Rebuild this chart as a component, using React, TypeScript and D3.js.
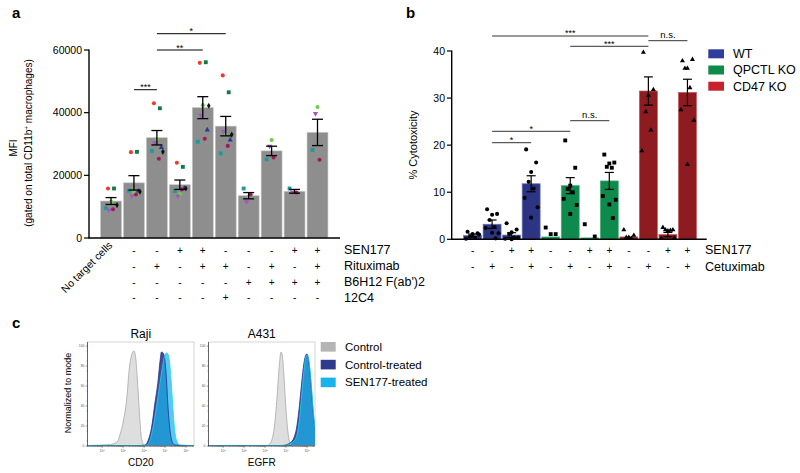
import React from 'react';
import * as d3 from 'd3';

const FONT = '"Liberation Sans", Arial, Helvetica, sans-serif';

// ---------- Panel a data ----------
const aBarMeans = [11800, 17600, 32000, 17000, 41600, 35700, 13500, 27800, 14900, 33700];
const aBarSem = [1100, 2300, 2300, 1500, 3500, 3100, 1000, 1500, 600, 4200];
const aYTicks = [0, 20000, 40000, 60000];
const aFirstLabel = 'No target cells';
const aRowLabels = ['SEN177', 'Rituximab', "B6H12 F(ab')2", '12C4'];
const aSEN177 = ['-', '-', '+', '+', '-', '-', '-', '+', '+'];
const aRituximab = ['-', '+', '-', '+', '+', '-', '+', '-', '+'];
const aB6H12 = ['-', '-', '-', '-', '-', '+', '+', '+', '+'];
const a12C4 = ['-', '-', '-', '-', '+', '-', '-', '-', '-'];
const donorRed = [15800, 27400, 43000, 24000, 55900, 51900, null, null, null, null];
const donorDarkGreen = [15800, 27500, 41400, 22700, 56100, 46500, null, null, null, null];
const donorLightGreen = [11600, 14500, 31600, 14000, 42400, 33000, 13200, 31300, null, 41800];
const donorPurple = [8900, 13400, 30400, 13400, 39200, 34000, 11600, 29300, 14700, 39700];
const donorNavy = [null, 15000, 28900, 15900, 34500, 31300, null, null, null, null];
const donorTeal = [9500, 15100, 27800, 15000, 30700, 27000, 15800, 25100, 15800, 28100];
const donorMaroon = [9200, 13900, 25300, 15500, 31700, 29400, 13900, 25700, 14500, 25000];
const donorBlack = [10500, 14800, 27500, 15800, 42200, 33000, null, null, null, null];
const aSig = [
  { from: 1, to: 2, label: '***' },
  { from: 2, to: 4, label: '**' },
  { from: 2, to: 5, label: '*' },
];

// ---------- Panel b data ----------
const bGroups = ['WT', 'QPCTL KO', 'CD47 KO'];
const bBarGroup = [0, 0, 0, 0, 1, 1, 1, 1, 2, 2, 2, 2];
const bBarMeans = [0.8, 3.2, 0.9, 11.8, 0.5, 11.4, 0.3, 12.4, 0.5, 31.5, 1.0, 31.2];
const bBarSem = [0.3, 0.9, 0.5, 1.7, 0, 1.7, 0, 1.8, 0, 3.0, 0.45, 2.8];
const bYTicks = [0, 10, 20, 30, 40];
const bSEN177 = ['-', '-', '+', '+', '-', '-', '+', '+', '-', '-', '+', '+'];
const bCetuximab = ['-', '+', '-', '+', '-', '+', '-', '+', '-', '+', '-', '+'];
const bPoints = [
  [1.6, 1.3, 1.1, 0.6, 0.4, 0.1, 1.0],
  [6.4, 5.4, 5.2, 4.1, 2.6, 2.4, 1.3, 1.4, 0.2],
  [3.4, 2.1, 1.5, 1.1, 0.4, 0.1, 0.4, 0.0],
  [19.1, 16.3, 14.3, 12.2, 10.8, 8.8, 6.8, 4.6],
  [2.5, 1.1, 1.1],
  [21.0, 15.2, 11.4, 10.7, 10.0, 8.6, 7.3, 5.4],
  [3.2, 0.6],
  [18.0, 16.3, 16.1, 15.4, 15.2, 9.2, 8.4, 7.4, 4.5],
  [2.0, 0.85, 0.4, 0.4, 0.2],
  [39.7, 31.8, 30.6, 27.1, 23.2, 18.8],
  [2.5, 2.0, 1.8, 2.0, 1.9, 0.2, 0.3],
  [37.9, 38.2, 36.3, 36.3, 32.2, 27.5, 25.3, 15.9],
];
const bSig = [
  { from: 1, to: 9, label: '***' },
  { from: 9, to: 11, label: 'n.s.' },
  { from: 5, to: 9, label: '***' },
  { from: 5, to: 7, label: 'n.s.' },
  { from: 1, to: 5, label: '*' },
  { from: 1, to: 3, label: '*' },
];

// ---------- Panel c data (log10 intensity, % of mode) ----------
const rajiControlLog = [0.3, 0.92, 1.39, 1.71, 1.86, 2.02, 2.18, 2.3, 2.37, 2.46, 2.52, 2.6, 2.68, 2.77, 2.85, 2.92, 3.0, 5.35];
const rajiControlPct = [0.3, 1, 1.5, 4, 12, 26, 49, 79, 88, 94, 95, 88, 66, 36, 12, 4, 0.3, 0.3];
const rajiCtrlTreatedLog = [0.3, 2.8, 3.04, 3.2, 3.36, 3.51, 3.67, 3.75, 3.83, 3.91, 3.99, 4.07, 4.14, 4.22, 4.3, 4.46, 5.35];
const rajiCtrlTreatedPct = [0.5, 0.5, 1, 6, 19, 42, 66, 83, 94, 93, 86, 66, 39, 19, 7, 1, 0.3];
const rajiSenLog = [0.3, 2.9, 3.12, 3.28, 3.43, 3.59, 3.75, 3.91, 3.99, 4.07, 4.14, 4.22, 4.3, 4.38, 4.46, 4.54, 4.7, 5.35];
const rajiSenPct = [0.5, 0.5, 1, 6, 19, 39, 62, 83, 91, 93, 92, 83, 62, 36, 16, 6, 1, 0.5];
const a431ControlLog = [0.3, 3.0, 3.16, 3.32, 3.44, 3.57, 3.66, 3.76, 3.82, 3.89, 3.98, 4.08, 4.17, 4.28, 5.4];
const a431ControlPct = [0.3, 0.3, 1, 6, 19, 49, 76, 94, 91, 73, 42, 16, 4, 0.5, 0.3];
const a431CtrlTreatedLog = [0.3, 3.8, 3.97, 4.21, 4.37, 4.5, 4.61, 4.72, 4.82, 4.91, 4.99, 5.06, 5.14, 5.22, 5.3, 5.38, 5.45];
const a431CtrlTreatedPct = [0.3, 0.5, 1, 3.5, 8, 18, 35, 58, 78, 89, 92, 88, 74, 54, 32, 18, 12];
const a431SenLog = [0.3, 3.9, 4.05, 4.25, 4.42, 4.55, 4.65, 4.75, 4.85, 4.93, 5.0, 5.07, 5.15, 5.23, 5.31, 5.38, 5.45];
const a431SenPct = [0.3, 0.5, 1, 3, 6, 14, 29, 52, 75, 88, 91, 88, 74, 54, 32, 18, 12];
const cLegend = ['Control', 'Control-treated', 'SEN177-treated'];
const cYTicks = [0, 20, 40, 60, 80, 100];
const cXDecades = [1, 2, 3, 4, 5];

// ---------- styles ----------
const GRAY_BAR = '#8e8e8e';
const bBarColors = ['#2b3584', '#0d8a4c', '#8e1b20'];
const bBarStroke = ['#6b73b5', '#4fb07f', '#c05a5e'];
const bLegendColors = ['#2f3d9c', '#0c8b4a', '#c9202e'];
const cColors = { control: '#b4b4b4', ctrlTreated: '#2e3a8c', sen: '#18b4ec' };

type Shape = 'circle' | 'square' | 'triUp' | 'triDown' | 'diamond';
const aDonorTable: { vals: (number | null)[]; color: string; shape: Shape; dx: number }[] = [
  { vals: donorRed, color: '#ef3b2c', shape: 'circle', dx: -3 },
  { vals: donorDarkGreen, color: '#137a45', shape: 'square', dx: 3 },
  { vals: donorLightGreen, color: '#6bd043', shape: 'circle', dx: 0 },
  { vals: donorPurple, color: '#a456c2', shape: 'triDown', dx: -2 },
  { vals: donorNavy, color: '#2c3893', shape: 'triUp', dx: 4.5 },
  { vals: donorTeal, color: '#1c9b9e', shape: 'square', dx: -5 },
  { vals: donorMaroon, color: '#9c1b58', shape: 'circle', dx: 2 },
  { vals: donorBlack, color: '#111111', shape: 'diamond', dx: 6 },
];
const bShapes: Shape[] = ['circle', 'square', 'triUp'];
const jitter = [-5, 5, 0, -2.5, 2.5, -6.5, 6.5, 0, 3.5];

function symPath(shape: Shape, size: number): string {
  const t =
    shape === 'circle' ? d3.symbolCircle :
    shape === 'square' ? d3.symbolSquare :
    shape === 'diamond' ? d3.symbolDiamond : d3.symbolTriangle;
  return d3.symbol().type(t).size(size)() as string;
}

function Marker({ x, y, shape, color, size }: { x: number; y: number; shape: Shape; color: string; size: number }) {
  const rot = shape === 'triDown' ? ' rotate(180)' : '';
  return <path d={symPath(shape, size)} transform={`translate(${x},${y})${rot}`} fill={color} />;
}

function Histogram({
  x0, x1, title, xLabel, series, clipId,
}: {
  x0: number; x1: number; title: string; xLabel: string;
  series: { log: number[]; pct: number[]; fill: string; fillOpacity: number; stroke: string }[];
  clipId: string;
}) {
  const top = 342, bottom = 446;
  const sx = d3.scaleLog().domain([Math.pow(10, 0.3), Math.pow(10, 5.38)]).range([x0, x1]);
  const sy = d3.scaleLinear().domain([0, 100]).range([bottom, top + 4]);
  const area = d3.area<[number, number]>()
    .x((d) => sx(Math.pow(10, d[0])))
    .y0(sy(0))
    .y1((d) => sy(d[1]))
    .curve(d3.curveMonotoneX);
  const line = d3.line<[number, number]>()
    .x((d) => sx(Math.pow(10, d[0])))
    .y((d) => sy(d[1]))
    .curve(d3.curveMonotoneX);
  const minor: number[] = [];
  for (let e = 0; e <= 5; e++) for (let m = 2; m <= 9; m++) {
    const v = m * Math.pow(10, e);
    if (v > sx.domain()[0] && v < sx.domain()[1]) minor.push(v);
  }
  return (
    <g>
      <defs>
        <clipPath id={clipId}><rect x={x0} y={top} width={x1 - x0} height={bottom - top} /></clipPath>
      </defs>
      <rect x={x0} y={top} width={x1 - x0} height={bottom - top} fill="none" stroke="#b8b8b8" strokeWidth={0.6} />
      <g clipPath={`url(#${clipId})`}>
        {series.map((s, i) => {
          const pts = s.log.map((l, k) => [l, s.pct[k]] as [number, number]);
          return <path key={'a' + i} d={area(pts) as string} fill={s.fill} fillOpacity={s.fillOpacity} stroke="none" />;
        })}
        {series.map((s, i) => {
          const pts = s.log.map((l, k) => [l, s.pct[k]] as [number, number]);
          return <path key={'l' + i} d={line(pts) as string} fill="none" stroke={s.stroke} strokeWidth={0.8} />;
        })}
      </g>
      <line x1={x0} x2={x0} y1={top} y2={bottom} stroke="#333" strokeWidth={0.7} />
      <line x1={x0} x2={x1} y1={bottom} y2={bottom} stroke="#333" strokeWidth={0.7} />
      {cYTicks.map((t) => (
        <g key={t}>
          <line x1={x0 - 1.8} x2={x0} y1={sy(t)} y2={sy(t)} stroke="#333" strokeWidth={0.5} />
          <text x={x0 - 3} y={sy(t)} dy="0.35em" fontSize={3.4} textAnchor="end" fill="#555">{t}</text>
        </g>
      ))}
      {d3.range(5, 100, 10).map((t) => (
        <line key={'m' + t} x1={x0 - 1} x2={x0} y1={sy(t)} y2={sy(t)} stroke="#333" strokeWidth={0.4} />
      ))}
      {cXDecades.map((e) => (
        <g key={e}>
          <line x1={sx(Math.pow(10, e))} x2={sx(Math.pow(10, e))} y1={bottom} y2={bottom + 1.8} stroke="#333" strokeWidth={0.5} />
          <text x={sx(Math.pow(10, e))} y={bottom + 6} fontSize={3.4} textAnchor="middle" fill="#555">
            10<tspan dy={-1.3} fontSize={2.4}>{e}</tspan>
          </text>
        </g>
      ))}
      {minor.map((v, i) => (
        <line key={'x' + i} x1={sx(v)} x2={sx(v)} y1={bottom} y2={bottom + 1} stroke="#333" strokeWidth={0.35} />
      ))}
      <text x={(x0 + x1) / 2} y={338} fontSize={12} textAnchor="middle">{title}</text>
      <text x={(x0 + x1) / 2} y={466} fontSize={10} textAnchor="middle">{xLabel}</text>
    </g>
  );
}

export default function App() {
  // ---------- panel a ----------
  const ax = d3.scaleBand<number>().domain(d3.range(aBarMeans.length)).range([98.5, 330]).padding(0.09);
  const ay = d3.scaleLinear().domain([0, 60000]).range([238, 50]);
  const aBw = ax.bandwidth();
  const aCx = (i: number) => (ax(i) as number) + aBw / 2;
  const aRows = [aSEN177, aRituximab, aB6H12, a12C4];
  const aRowY = [250, 266, 282, 297.5];
  const aSigY = [89.7, 50, 33.7];

  // ---------- panel b ----------
  const bx = d3.scaleBand<number>().domain(d3.range(bBarMeans.length)).range([462, 698]).padding(0.08);
  const by = d3.scaleLinear().domain([0, 40]).range([239.3, 51]);
  const bBw = bx.bandwidth();
  const bCx = (i: number) => (bx(i) as number) + bBw / 2;
  const bRows = [bSEN177, bCetuximab];
  const bRowLabels = ['SEN177', 'Cetuximab'];
  const bRowY = [250, 266.5];
  const bSigY = [36, 40.7, 46.3, 120.7, 131.3, 142.7];

  return (
    <svg width={800} height={473} viewBox="0 0 800 473"
      style={{ position: 'absolute', left: 0, top: 0, background: '#fff' }}
      fontFamily={FONT}>
      <rect width={800} height={473} fill="#fff" />
      {/* panel letters */}
      <text x={12} y={18} fontSize={15} fontWeight="bold">a</text>
      <text x={406} y={18} fontSize={15} fontWeight="bold">b</text>
      <text x={12} y={328} fontSize={15} fontWeight="bold">c</text>

      {/* ================= Panel a ================= */}
      <g>
        {aBarMeans.map((v, i) => (
          <rect key={i} x={ax(i)} y={ay(v)} width={aBw} height={ay(0) - ay(v)} fill={GRAY_BAR} stroke="#c4c4c4" strokeWidth={0.6} />
        ))}
        {aDonorTable.map((dn, di) =>
          dn.vals.map((v, i) =>
            v == null ? null : (
              <Marker key={di + '-' + i} x={aCx(i) + dn.dx} y={ay(v)} shape={dn.shape} color={dn.color}
                size={dn.shape === 'diamond' ? 11 : dn.shape === 'square' ? 15 : dn.shape === 'circle' ? 13 : 12} />
            )
          )
        )}
        {aBarMeans.map((v, i) => {
          const cx = aCx(i), hi = ay(v + aBarSem[i]), lo = ay(v - aBarSem[i]);
          return (
            <g key={'e' + i} stroke="#000" strokeWidth={1.3}>
              <line x1={cx} x2={cx} y1={hi} y2={lo} />
              <line x1={cx - 5.5} x2={cx + 5.5} y1={hi} y2={hi} />
              <line x1={cx - 5.5} x2={cx + 5.5} y1={lo} y2={lo} />
            </g>
          );
        })}
        {/* axes */}
        <line x1={89} x2={89} y1={49.5} y2={238} stroke="#000" strokeWidth={1.4} />
        <line x1={88.3} x2={340} y1={238} y2={238} stroke="#000" strokeWidth={1.4} />
        {aYTicks.map((t) => (
          <g key={t}>
            <line x1={84} x2={89} y1={ay(t)} y2={ay(t)} stroke="#000" strokeWidth={1.2} />
            <text x={82} y={ay(t)} dy="0.35em" fontSize={10.5} textAnchor="end">{t}</text>
          </g>
        ))}
        <text transform="translate(17,148) rotate(-90)" fontSize={10} textAnchor="middle">MFI</text>
        <text transform="translate(32,143) rotate(-90)" fontSize={10} textAnchor="middle">
          (gated on total CD11b<tspan dy={-3.5} fontSize={6.5}>+</tspan><tspan dy={3.5}> macrophages)</tspan>
        </text>
        {/* significance */}
        {aSig.map((s, k) => (
          <g key={k}>
            <line x1={aCx(s.from)} x2={aCx(s.to)} y1={aSigY[k]} y2={aSigY[k]} stroke="#000" strokeWidth={1} />
            <text x={(aCx(s.from) + aCx(s.to)) / 2} y={aSigY[k] + 0.5} fontSize={9} textAnchor="middle">{s.label}</text>
          </g>
        ))}
        {/* x rows */}
        <text transform={`translate(${aCx(0) + 2},${246}) rotate(-45)`} fontSize={10.5} textAnchor="end">{aFirstLabel}</text>
        {aRows.map((row, r) => (
          <g key={r}>
            {row.map((s, k) => (
              <text key={k} x={aCx(k + 1)} y={aRowY[r]} dy="0.35em" fontSize={10} textAnchor="middle">{s}</text>
            ))}
            <text x={344} y={aRowY[r]} dy="0.35em" fontSize={12.5}>{aRowLabels[r]}</text>
          </g>
        ))}
      </g>

      {/* ================= Panel b ================= */}
      <g>
        {bBarMeans.map((v, i) => (
          <rect key={i} x={bx(i)} y={by(v)} width={bBw} height={by(0) - by(v)}
            fill={bBarColors[bBarGroup[i]]} stroke={bBarStroke[bBarGroup[i]]} strokeWidth={0.7} />
        ))}
        {bPoints.map((pts, i) =>
          pts.map((v, k) => (
            <Marker key={i + '-' + k} x={bCx(i) + jitter[k % jitter.length]} y={by(v)}
              shape={bShapes[bBarGroup[i]]} color="#000"
              size={bShapes[bBarGroup[i]] === 'square' ? 15 : bShapes[bBarGroup[i]] === 'triUp' ? 11 : 13} />
          ))
        )}
        {bBarMeans.map((v, i) => {
          if (!bBarSem[i]) return null;
          const cx = bCx(i), hi = by(v + bBarSem[i]), lo = by(Math.max(0, v - bBarSem[i]));
          return (
            <g key={'e' + i} stroke="#000" strokeWidth={1.2}>
              <line x1={cx} x2={cx} y1={hi} y2={lo} />
              <line x1={cx - 4.5} x2={cx + 4.5} y1={hi} y2={hi} />
              <line x1={cx - 4.5} x2={cx + 4.5} y1={lo} y2={lo} />
            </g>
          );
        })}
        <line x1={451.7} x2={451.7} y1={50.5} y2={239.3} stroke="#000" strokeWidth={1.4} />
        <line x1={451} x2={706.7} y1={239.3} y2={239.3} stroke="#000" strokeWidth={1.4} />
        {bYTicks.map((t) => (
          <g key={t}>
            <line x1={447} x2={451.7} y1={by(t)} y2={by(t)} stroke="#000" strokeWidth={1.2} />
            <text x={445} y={by(t)} dy="0.35em" fontSize={10.5} textAnchor="end">{t}</text>
          </g>
        ))}
        <text transform="translate(417,145) rotate(-90)" fontSize={11} textAnchor="middle">% Cytotoxicity</text>
        {bSig.map((s, k) => (
          <g key={k}>
            <line x1={bCx(s.from)} x2={bCx(s.to)} y1={bSigY[k]} y2={bSigY[k]} stroke="#333" strokeWidth={1} />
            <text x={(bCx(s.from) + bCx(s.to)) / 2} y={bSigY[k] - (s.label === 'n.s.' ? 2.5 : -0.3)}
              fontSize={s.label === 'n.s.' ? 9.5 : 9} textAnchor="middle">{s.label}</text>
          </g>
        ))}
        {bRows.map((row, r) => (
          <g key={r}>
            {row.map((s, k) => (
              <text key={k} x={bCx(k)} y={bRowY[r]} dy="0.35em" fontSize={10} textAnchor="middle">{s}</text>
            ))}
            <text x={705} y={bRowY[r]} dy="0.35em" fontSize={12.5}>{bRowLabels[r]}</text>
          </g>
        ))}
        {bGroups.map((g, k) => (
          <g key={g}>
            <rect x={708.3} y={49.3 + k * 16.2} width={15.7} height={9} fill={bLegendColors[k]} />
            <text x={733} y={53.8 + k * 16.2} dy="0.35em" fontSize={12.5}>{g}</text>
          </g>
        ))}
      </g>

      {/* ================= Panel c ================= */}
      <Histogram x0={87.5} x1={194} title="Raji" xLabel="CD20" clipId="clipRaji"
        series={[
          { log: rajiControlLog, pct: rajiControlPct, fill: '#dedede', fillOpacity: 1, stroke: '#a8a8a8' },
          { log: rajiCtrlTreatedLog, pct: rajiCtrlTreatedPct, fill: cColors.ctrlTreated, fillOpacity: 0.9, stroke: '#2a2f8f' },
          { log: rajiSenLog, pct: rajiSenPct, fill: cColors.sen, fillOpacity: 0.72, stroke: '#22d4f2' },
        ]} />
      <Histogram x0={208.5} x1={315} title="A431" xLabel="EGFR" clipId="clipA431"
        series={[
          { log: a431ControlLog, pct: a431ControlPct, fill: '#dedede', fillOpacity: 1, stroke: '#a8a8a8' },
          { log: a431CtrlTreatedLog, pct: a431CtrlTreatedPct, fill: cColors.ctrlTreated, fillOpacity: 0.9, stroke: '#2a2f8f' },
          { log: a431SenLog, pct: a431SenPct, fill: cColors.sen, fillOpacity: 0.72, stroke: '#22d4f2' },
        ]} />
      <text transform="translate(71,393) rotate(-90)" fontSize={9} textAnchor="middle">Normalized to mode</text>
      {cLegend.map((l, k) => (
        <g key={l}>
          <rect x={320.7} y={342 + k * 17.8} width={15} height={9.6}
            fill={k === 0 ? cColors.control : k === 1 ? cColors.ctrlTreated : cColors.sen} />
          <text x={345} y={346.8 + k * 17.8} dy="0.35em" fontSize={11.5}>{l}</text>
        </g>
      ))}
    </svg>
  );
}
